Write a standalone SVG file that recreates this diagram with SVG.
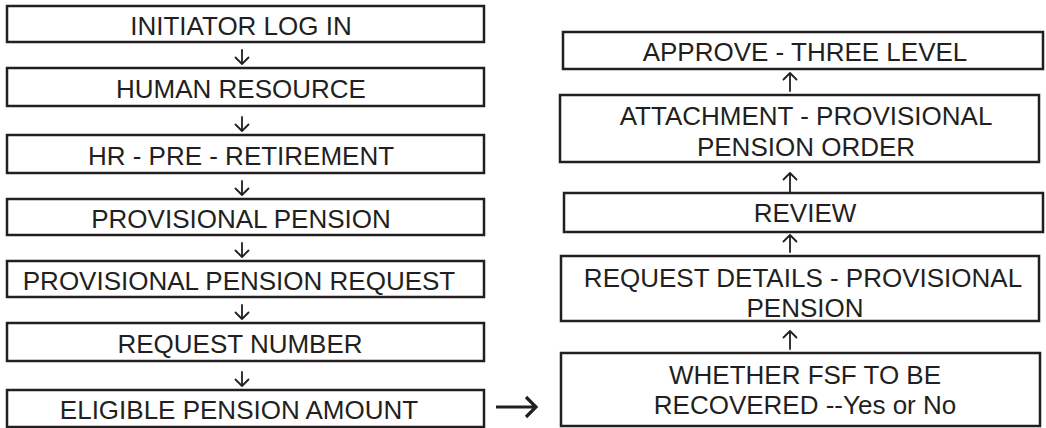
<svg xmlns="http://www.w3.org/2000/svg" width="1046" height="428" viewBox="0 0 1046 428">
<style>
rect.box{fill:#fff;stroke:#231f20;stroke-width:2.5}
text{font-family:"Liberation Sans",Arial,Helvetica,sans-serif;font-size:26px;fill:#231f20;text-anchor:middle}
.arr{fill:none;stroke:#231f20;stroke-width:1.8;stroke-linecap:round;stroke-linejoin:round}
.big{fill:none;stroke:#231f20;stroke-width:3.2;stroke-linejoin:miter}
</style>
<rect width="1046" height="428" fill="#fff"/>
<g id="n1"><rect class="box" x="7" y="6" width="477" height="36"/><text x="241" y="35">INITIATOR LOG IN</text></g>
<g id="n2"><rect class="box" x="7" y="68" width="477" height="38"/><text x="241" y="98">HUMAN RESOURCE</text></g>
<g id="n3"><rect class="box" x="7" y="135" width="477" height="38"/><text x="241" y="165">HR - PRE - RETIREMENT</text></g>
<g id="n4"><rect class="box" x="7" y="199" width="477" height="36"/><text x="241" y="228">PROVISIONAL PENSION</text></g>
<g id="n5"><rect class="box" x="7" y="261" width="477" height="36"/><text x="239" y="290">PROVISIONAL PENSION REQUEST</text></g>
<g id="n6"><rect class="box" x="7" y="323" width="477" height="38"/><text x="240" y="353">REQUEST NUMBER</text></g>
<g id="n7"><rect class="box" x="7" y="390" width="477" height="37"/><text x="239" y="419">ELIGIBLE PENSION AMOUNT</text></g>
<g id="n8"><rect class="box" x="561" y="353" width="479" height="73"/><text x="805" y="384">WHETHER FSF TO BE</text><text x="805" y="414">RECOVERED --Yes or No</text></g>
<g id="n9"><rect class="box" x="561" y="256" width="478" height="65"/><text x="803" y="287">REQUEST DETAILS - PROVISIONAL</text><text x="805" y="317">PENSION</text></g>
<g id="n10"><rect class="box" x="564" y="193" width="479" height="39"/><text x="805" y="222">REVIEW</text></g>
<g id="n11"><rect class="box" x="560" y="95" width="479" height="67"/><text x="806" y="125">ATTACHMENT - PROVISIONAL</text><text x="806" y="156">PENSION ORDER</text></g>
<g id="n12"><rect class="box" x="563" y="32" width="480" height="37"/><text x="805" y="61">APPROVE - THREE LEVEL</text></g>
<g id="connectors">
<path class="arr" d="M242 50V64M235.5 57.5L242 64L248.5 57.5"/>
<path class="arr" d="M242 117V131M235.5 124.5L242 131L248.5 124.5"/>
<path class="arr" d="M242 181V195M235.5 188.5L242 195L248.5 188.5"/>
<path class="arr" d="M242 243V257M235.5 250.5L242 257L248.5 250.5"/>
<path class="arr" d="M242 305V319M235.5 312.5L242 319L248.5 312.5"/>
<path class="arr" d="M242 372V386M235.5 379.5L242 386L248.5 379.5"/>
<path class="big" d="M496 407H536M526 397L536 407L526 417"/>
<path class="arr" d="M790 349V331M783.5 337.5L790 331L796.5 337.5"/>
<path class="arr" d="M790 252V235M783.5 241.5L790 235L796.5 241.5"/>
<path class="arr" d="M790 192V173M783.5 179.5L790 173L796.5 179.5"/>
<path class="arr" d="M790 91V73M783.5 79.5L790 73L796.5 79.5"/>
</g>
</svg>
